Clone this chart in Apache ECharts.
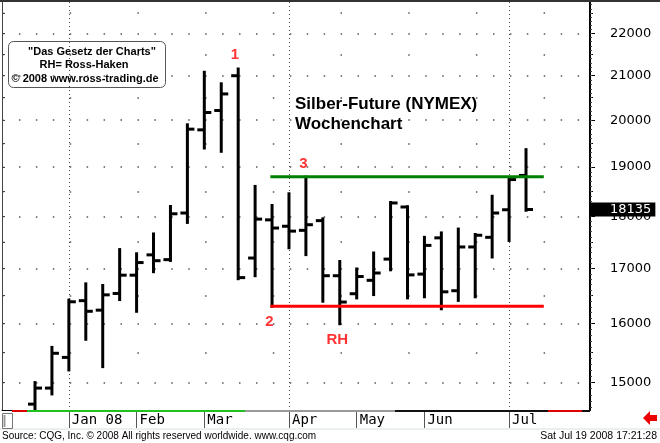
<!DOCTYPE html>
<html><head><meta charset="utf-8">
<script src="https://cdn.jsdelivr.net/npm/echarts@6/dist/echarts.min.js"></script>
<style>html,body{margin:0;padding:0;background:#fff}#c{width:660px;height:443px}</style>
</head><body><div id="c"></div>
<script>
// Weekly silver futures bars (week starting)
const weeks = ['2007-12-24','2007-12-31','2008-01-07','2008-01-14','2008-01-21','2008-01-28','2008-02-04','2008-02-11','2008-02-18','2008-02-25',
  '2008-03-03','2008-03-10','2008-03-17','2008-03-24','2008-03-31','2008-04-07','2008-04-14','2008-04-21','2008-04-28','2008-05-05',
  '2008-05-12','2008-05-19','2008-05-26','2008-06-02','2008-06-09','2008-06-16','2008-06-23','2008-06-30','2008-07-07','2008-07-14'];
const openP  = [14650,14910,15420,16410,16240,16540,16875,17255,17165,18065,19790,20215,21000,17195,17930,17805,17725,17915,16865,16535,16780,17175,18185,16895,17580,16590,17405,17590,18130,18825];
const highP  = [15000,15590,16420,16715,16685,17355,17275,17655,18195,19900,21080,20815,21155,18600,18215,18450,18790,17950,17130,16990,17290,18275,18190,17590,17675,17750,17645,18400,18755,19365];
const lowP   = [14500,14815,15210,15730,15265,16430,16220,16940,17150,17880,19400,19330,16810,16865,16310,17390,17260,16400,16000,16460,16520,16975,16460,16480,16265,16415,16480,17215,17530,18120];
const closeP = [14910,15490,16390,16220,16515,16875,17110,17145,18050,19805,20170,20585,16830,17945,17770,17710,17835,16865,16385,16850,16915,18265,16880,17435,16570,17405,17630,18065,18740,18135];

const priceTicks = [15000,16000,17000,18000,19000,20000,21000,22000];
const halfTicks = [15500,16500,17500,18500,19500,20500,21500,22500];
const monthPos = [2,6,10,15,19,23,28];
const monthLabels = ['Jan 08','Feb','Mar','Apr','May','Jun','Jul'];
const quarterPos = [2,15,28];
const resistance = 18800;
const support = 16310;
const lineFrom = 13.9, lineTo = 30.05;
const lastPrice = 18135;
const notes = [
  {name:'1', x:11.81, y:21476},
  {name:'2', x:13.85, y:16025},
  {name:'3', x:15.86, y:19062},
  {name:'RH', x:17.85, y:15714}
];

const X_MIN = -1.949, X_MAX = 32.779;
const Y_MIN = 14556, Y_MAX = 22768;
const hundreds = [];
for (let v = 14600; v <= 22700; v += 100) hundreds.push(v);
const allHalf = priceTicks.concat(halfTicks).sort((a,b)=>a-b);

const chart = echarts.init(document.getElementById('c'), null, {renderer:'canvas'});

function renderOHLC(params, api) {
  const x = api.value(0);
  const o = api.coord([x, api.value(1)]);
  const h = api.coord([x, api.value(2)]);
  const l = api.coord([x, api.value(3)]);
  const c = api.coord([x, api.value(4)]);
  const t = 7;
  const st = {stroke:'#000', lineWidth:3, lineCap:'butt'};
  return {type:'group', children:[
    {type:'line', shape:{x1:h[0], y1:h[1]-1.5, x2:l[0], y2:l[1]+1.5}, style:st},
    {type:'line', shape:{x1:o[0]-t, y1:o[1], x2:o[0], y2:o[1]}, style:st},
    {type:'line', shape:{x1:c[0], y1:c[1], x2:c[0]+t, y2:c[1]}, style:st}
  ]};
}

const logBase = {type:'log', logBase:10, min:Y_MIN, max:Y_MAX, gridIndex:0};

const option = {
  animation:false,
  backgroundColor:'#fff',
  grid:{left:2, right:70, top:2, bottom:33, containLabel:false},
  title:{
    text:'Silber-Future (NYMEX)\nWochenchart',
    left:295, top:94, padding:0,
    textStyle:{fontFamily:'Liberation Sans', fontWeight:'bold', fontSize:17, lineHeight:20, color:'#000'}
  },
  xAxis:[
    {type:'value', min:X_MIN, max:X_MAX, position:'bottom',
      axisLine:{show:true, onZero:false, lineStyle:{color:'#000', width:1}},
      axisTick:{show:true, customValues:monthPos, length:18, lineStyle:{color:'#555', width:1}},
      axisLabel:{show:true, customValues:monthPos, align:'left', margin:3, padding:[0,0,0,3],
        fontFamily:'DejaVu Sans Mono', fontSize:14, color:'#000',
        formatter:function(v){ const i = monthPos.findIndex(p=>Math.abs(p-v)<1e-6); return i>=0?monthLabels[i]:''; }},
      splitLine:{show:false}
    },
    {type:'value', min:X_MIN, max:X_MAX, position:'bottom',
      axisLine:{show:false, onZero:false}, axisTick:{show:false, customValues:quarterPos}, axisLabel:{show:false},
      splitLine:{show:true, lineStyle:{color:'#444', width:1, type:[1,3]}}
    }
  ],
  yAxis:[
    Object.assign({}, logBase, {position:'right',
      axisLine:{show:true, onZero:false, lineStyle:{color:'#000', width:2}},
      axisTick:{show:true, customValues:priceTicks, length:5, lineStyle:{color:'#000'}},
      axisLabel:{show:true, customValues:priceTicks, margin:20, fontFamily:'DejaVu Sans', fontSize:13, color:'#000',
        formatter:function(v){return String(Math.round(v));}},
      splitLine:{show:true, lineStyle:{color:'#555', width:1.5, type:[1.5,15.43]}}
    }),
    Object.assign({}, logBase, {position:'right',
      axisLine:{show:false, onZero:false},
      axisTick:{show:true, customValues:halfTicks, length:3, lineStyle:{color:'#000'}},
      axisLabel:{show:false},
      splitLine:{show:true, lineStyle:{color:'#555', width:1.5, type:[1.5,66.2]}}
    }),
    Object.assign({}, logBase, {position:'right',
      axisLine:{show:false, onZero:false},
      axisTick:{show:true, customValues:hundreds, length:2, lineStyle:{color:'#444'}},
      axisLabel:{show:false}, splitLine:{show:false}
    }),
    Object.assign({}, logBase, {position:'left',
      axisLine:{show:true, onZero:false, lineStyle:{color:'#444', width:1}},
      axisTick:{show:true, inside:true, customValues:allHalf, length:3, lineStyle:{color:'#444'}},
      axisLabel:{show:false}, splitLine:{show:false}
    })
  ],
  series:[
    {type:'custom', name:'OHLC', xAxisIndex:0, yAxisIndex:0, clip:true,
      renderItem:renderOHLC,
      encode:{x:0, y:[1,2,3,4]},
      data:weeks.map((w,i)=>[i, openP[i], highP[i], lowP[i], closeP[i]]), z:3},
    {type:'line', name:'Widerstand', xAxisIndex:0, yAxisIndex:0, symbol:'none',
      lineStyle:{color:'#008000', width:3}, data:[[lineFrom, resistance],[lineTo, resistance]], z:4},
    {type:'line', name:'Unterstützung', xAxisIndex:0, yAxisIndex:0, symbol:'none',
      lineStyle:{color:'#ff0000', width:3}, data:[[lineFrom, support],[lineTo, support]], z:4,
      markLine:{silent:true, symbol:'none', animation:false,
        lineStyle:{width:0, color:'rgba(0,0,0,0)'},
        label:{show:true, position:'end', distance:0, formatter:String(lastPrice),
          color:'#fff', backgroundColor:'#000', fontFamily:'DejaVu Sans', fontSize:13,
          padding:[1,4,0,20]},
        data:[{yAxis:lastPrice}]}
    },
    {type:'scatter', name:'notes', xAxisIndex:0, yAxisIndex:0, symbolSize:1,
      itemStyle:{color:'rgba(0,0,0,0)'},
      label:{show:true, position:'inside', formatter:p=>p.data.name, color:'#ff0000',
        fontFamily:'Liberation Sans', fontWeight:'bold', fontSize:15},
      data:notes.map(n=>({name:n.name, value:[n.x, n.y]})), z:5}
  ],
  graphic:[
    {type:'rect', left:0, top:0, shape:{width:660, height:2}, style:{fill:'#333'}, z:10},
    // time strip
    {type:'line', shape:{x1:12,y1:411,x2:27,y2:411}, style:{stroke:'#e00000', lineWidth:2}, z:10},
    {type:'line', shape:{x1:27,y1:411,x2:245,y2:411}, style:{stroke:'#22c022', lineWidth:2}, z:10},
    {type:'line', shape:{x1:245,y1:411,x2:395,y2:411}, style:{stroke:'#999', lineWidth:2}, z:10},
    {type:'line', shape:{x1:395,y1:411,x2:548,y2:411}, style:{stroke:'#111', lineWidth:2}, z:10},
    {type:'line', shape:{x1:548,y1:411,x2:582,y2:411}, style:{stroke:'#e00000', lineWidth:2}, z:10},
    {type:'line', shape:{x1:582,y1:411,x2:590,y2:411}, style:{stroke:'#111', lineWidth:2}, z:10},
    {type:'line', shape:{x1:0,y1:429,x2:660,y2:429}, style:{stroke:'#d5e2d5', lineWidth:1}, z:10},
    {type:'rect', shape:{x:2.5,y:413.5,width:10,height:15}, style:{fill:'#fff', stroke:'#777', lineWidth:1}, z:10},
    {type:'line', shape:{x1:4.5,y1:415,x2:4.5,y2:427}, style:{stroke:'#999', lineWidth:2}, z:10},
    {type:'polygon', shape:{points:[[643,418],[650,411],[650,415],[657,415],[657,421],[650,421],[650,425]]}, style:{fill:'#ee0000'}, z:10},
    {type:'text', left:2, top:431, style:{text:'Source: CQG, Inc. © 2008 All rights reserved worldwide. www.cqg.com', font:'10px "Liberation Sans"', fill:'#000'}, z:10},
    {type:'text', right:3, top:431, style:{text:'Sat Jul 19 2008 17:21:28', font:'10.5px "Liberation Sans"', fill:'#000'}, z:10},
    // info box
    {type:'group', left:8, top:41, z:10, children:[
      {type:'rect', shape:{x:0.5,y:0.5,width:157,height:46,r:5}, style:{fill:'#fff', stroke:'#555', lineWidth:1}},
      {type:'text', x:84, y:5, style:{text:'"Das Gesetz der Charts"', font:'bold 11px "Liberation Sans"', fill:'#000', textAlign:'center'}},
      {type:'text', x:76, y:18, style:{text:'RH= Ross-Haken', font:'bold 11px "Liberation Sans"', fill:'#000', textAlign:'center'}},
      {type:'text', x:77, y:32, style:{text:'© 2008 www.ross-trading.de', font:'bold 11px "Liberation Sans"', fill:'#000', textAlign:'center'}}
    ]}
  ]
};
chart.setOption(option);
</script></body></html>
